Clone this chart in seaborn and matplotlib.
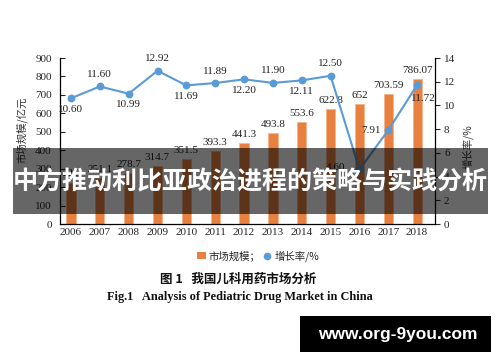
import matplotlib
matplotlib.use("Agg")
import matplotlib.pyplot as plt
import seaborn as sns
import pandas as pd
from matplotlib.patches import Rectangle, Patch
from matplotlib.lines import Line2D

years = ["2006", "2007", "2008", "2009", "2010", "2011", "2012",
         "2013", "2014", "2015", "2016", "2017", "2018"]
market_size = [225, 251.1, 278.7, 314.7, 351.5, 393.3, 441.3,
               493.8, 553.6, 622.8, 652, 703.59, 786.07]
market_labels = ["225", "251.1", "278.7", "314.7", "351.5", "393.3", "441.3",
                 "493.8", "553.6", "622.8", "652", "703.59", "786.07"]
growth = [10.60, 11.60, 10.99, 12.92, 11.69, 11.89, 12.20,
          11.90, 12.11, 12.50, 4.60, 7.91, 11.72]
growth_labels = ["10.60", "11.60", "10.99", "12.92", "11.69", "11.89", "12.20",
                 "11.90", "12.11", "12.50", "4.60", "7.91", "11.72"]
left_ticks = [0, 100, 200, 300, 400, 500, 600, 700, 800, 900]
right_ticks = [0, 2, 4, 6, 8, 10, 12, 14]

BAR_C = "#E8803F"
LINE_C = "#5B9BD5"
SERIF = ["Liberation Serif", "DejaVu Serif"]
CJK = ["Noto Sans CJK SC", "DejaVu Sans"]

sns.set_style("white")
plt.rcParams["font.family"] = ["Liberation Serif", "Noto Sans CJK SC", "DejaVu Sans"]

df = pd.DataFrame({"year": years, "size": market_size, "growth": growth})

fig = plt.figure(figsize=(5, 3.62), dpi=100)
fig.patch.set_facecolor("white")
ax = fig.add_axes([60 / 500, 1 - 224 / 362, 375 / 500, 166 / 362])

sns.barplot(data=df, x="year", y="size", ax=ax, color=BAR_C, width=0.32,
            edgecolor="#F6B48A", linewidth=0.6, saturation=1)
ax.set_xlim(-0.38, 12.62)
ax.set_ylim(0, 900)
ax.set_yticks(left_ticks)
ax.set_xlabel("")
ax.set_ylabel("")
for s in ["top", "right"]:
    ax.spines[s].set_visible(False)
for s in ["left", "bottom"]:
    ax.spines[s].set_color("black")
    ax.spines[s].set_linewidth(0.9)
ax.tick_params(axis="y", direction="in", length=3.5, width=0.8, pad=6, labelsize=8)
ax.tick_params(axis="x", length=0, pad=3, labelsize=8)
for lab in ax.get_xticklabels() + ax.get_yticklabels():
    lab.set_fontfamily(SERIF)

for i, (v, t) in enumerate(zip(market_size, market_labels)):
    ax.annotate(t, (i, v), xytext=(0, 4), textcoords="offset pixels",
                ha="center", va="bottom", fontsize=8, family=SERIF, color="#222222")

ax2 = ax.twinx()
sns.pointplot(data=df, x="year", y="growth", ax=ax2, color=LINE_C,
              markers="o", markersize=4.5, linewidth=1.5)
ax2.set_xlim(-0.38, 12.62)
ax2.set_ylim(0, 14)
ax2.set_yticks(right_ticks)
ax2.set_ylabel("")
ax2.set_xlabel("")
for s in ["top", "left", "bottom"]:
    ax2.spines[s].set_visible(False)
ax2.spines["right"].set_visible(True)
ax2.spines["right"].set_color("black")
ax2.spines["right"].set_linewidth(0.9)
ax2.tick_params(axis="y", direction="out", length=3.5, width=0.8, pad=3, labelsize=8)
for lab in ax2.get_yticklabels():
    lab.set_fontfamily(SERIF)

offsets = [(0, -11), (0, 12), (0, -11), (0, 12), (0, -11), (0, 12), (0, -11),
           (0, 12), (0, -11), (0, 12), (-24, 2), (-17, 0), (6, -13)]
for i, (v, t) in enumerate(zip(growth, growth_labels)):
    dx, dy = offsets[i]
    ax2.annotate(t, (i, v), xytext=(dx, dy), textcoords="offset pixels",
                 ha="center", va="center", fontsize=8, family=SERIF, color="#222222")

fig.text(22 / 500, 1 - 130 / 362, "市场规模/亿元", rotation=90, ha="center", va="center",
         fontsize=7.5, family=CJK, color="#333333")
fig.text(468 / 500, 1 - 147 / 362, "增长率/%", rotation=90, ha="center", va="center",
         fontsize=7.5, family=CJK, color="#333333")

handles = [Patch(facecolor=BAR_C, edgecolor="none"),
           Line2D([], [], color=LINE_C, marker="o", linestyle="none", markersize=4.5)]
leg = fig.legend(handles, ["市场规模；", "增长率/%"], loc="center",
                 bbox_to_anchor=(258 / 500, 1 - 256 / 362), ncol=2, frameon=False,
                 prop={"family": CJK, "size": 7.5}, handlelength=0.8, handletextpad=0.3,
                 columnspacing=0.2, borderpad=0)

fig.text(238 / 500, 1 - 279 / 362, "图 1   我国儿科用药市场分析", ha="center", va="center",
         fontsize=9, family=CJK, fontweight="bold", color="#111111")
fig.text(240 / 500, 1 - 297 / 362, "Fig.1   Analysis of Pediatric Drug Market in China",
         ha="center", va="center", fontsize=8.8, family=SERIF, fontweight="bold",
         color="#111111")

# overlay banner
fig.add_artist(Rectangle((13 / 500, 1 - 214 / 362), 475 / 500, 66 / 362,
                         transform=fig.transFigure, facecolor="black", alpha=0.6,
                         edgecolor="none", zorder=5))
fig.text(250 / 500, 1 - 182 / 362, "中方推动利比亚政治进程的策略与实践分析",
         ha="center", va="center", fontsize=18, family=CJK, fontweight="bold",
         color="white", zorder=6)

# watermark
fig.add_artist(Rectangle((300 / 500, 1 - 352 / 362), 191 / 500, 36 / 362,
                         transform=fig.transFigure, facecolor="black",
                         edgecolor="none", zorder=5))
fig.text(398 / 500, 1 - 334 / 362, "www.org-9you.com", ha="center", va="center",
         fontsize=12.5, family=["Liberation Sans", "DejaVu Sans"], fontweight="bold",
         color="white", zorder=6)

fig.savefig("out.png", dpi=100, facecolor="white")
